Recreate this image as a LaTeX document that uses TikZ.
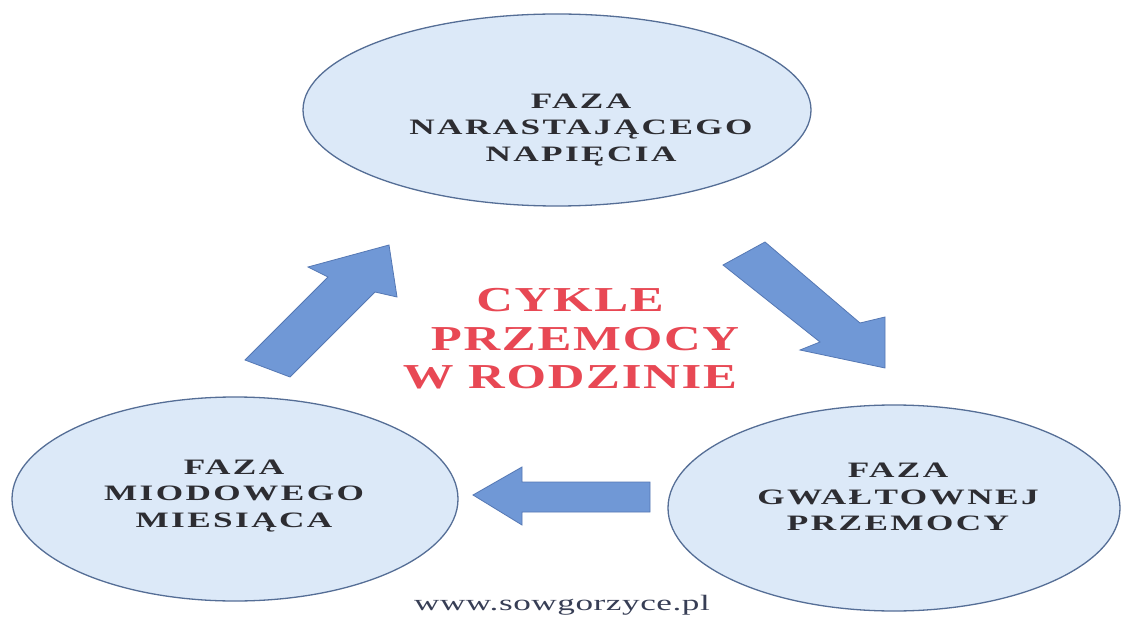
\documentclass[tikz,border=0pt]{standalone}
\usepackage{fontspec}
\setmainfont{Liberation Serif}
\newfontfamily\widefont[FakeStretch=1.6,LetterSpace=11]{Liberation Serif}
\newfontfamily\redfont[FakeStretch=1.45,LetterSpace=5]{Liberation Serif}
\newfontfamily\urlfont[FakeStretch=1.6,LetterSpace=2.5]{Liberation Serif}
\usetikzlibrary{shapes.geometric}
\definecolor{ellfill}{RGB}{220,233,248}
\definecolor{elldraw}{RGB}{85,110,150}
\definecolor{arrfill}{RGB}{112,152,214}
\definecolor{arrdraw}{RGB}{85,120,180}
\definecolor{redtxt}{RGB}{232,72,84}
\definecolor{phasetxt}{RGB}{45,45,50}
\definecolor{urltxt}{RGB}{55,62,85}
\tikzset{
  phase/.style={ellipse, draw=elldraw, fill=ellfill, line width=1.3pt, inner sep=0pt},
  phaselabel/.style={align=center, text=phasetxt, inner sep=0pt,
    font=\widefont\bfseries\fontsize{22}{26.5}\selectfont},
  blockarrow/.style={fill=arrfill, draw=arrdraw, line width=0.8pt, line join=miter},
}
\begin{document}
\begin{tikzpicture}[x=1pt,y=-1pt]
\useasboundingbox (0,0) rectangle (1123,617);
\fill[white] (0,0) rectangle (1123,617);
% ellipses
\node[phase, minimum width=508pt, minimum height=192pt] (top) at (557,110) {};
\node[phase, minimum width=446pt, minimum height=204pt] (left) at (235,499) {};
\node[phase, minimum width=452pt, minimum height=206pt] (right) at (894,508) {};
% labels
\node[phaselabel] (toplbl) at (581,130) {FAZA\\NARASTAJĄCEGO\\NAPIĘCIA};
\node[phaselabel] (leftlbl) at (234,496) {FAZA\\MIODOWEGO\\MIESIĄCA};
\node[phaselabel] (rightlbl) at (898,497) {FAZA\\GWAŁTOWNEJ\\PRZEMOCY};
% centre title
\node[align=center, text=redtxt, inner sep=0pt,
  font=\redfont\bfseries\fontsize{35}{38.5}\selectfont] (title) at (570,339)
  {CYKLE\\\hspace*{30pt}PRZEMOCY\\W RODZINIE};
% block arrows
\draw[blockarrow] (245,360) -- (328,277) -- (308,267) -- (389,245) -- (397,297) -- (375,292) -- (290,377) -- cycle;
\draw[blockarrow] (723,265) -- (765,242) -- (860,323) -- (885,317) -- (885,368) -- (800,350) -- (820,342) -- cycle;
\draw[blockarrow] (650,482) -- (522,482) -- (522,467) -- (473,495) -- (522,525) -- (522,512) -- (650,512) -- cycle;
% footer
\node[anchor=base, inner sep=0pt, text=urltxt,
  font=\urlfont\fontsize{22}{24}\selectfont] (url) at (562,610) {www.sowgorzyce.pl};
\end{tikzpicture}
\end{document}
